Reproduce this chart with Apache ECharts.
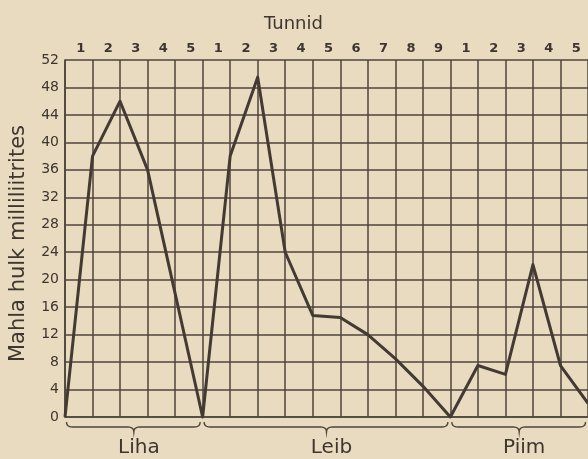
<!DOCTYPE html>
<html>
<head>
<meta charset="utf-8">
<script src="https://cdn.jsdelivr.net/npm/echarts@6/dist/echarts.min.js"></script>
<style>
  html, body { margin: 0; padding: 0; background: #e9dbbf; }
  #chart { width: 588px; height: 459px; }
</style>
</head>
<body>
<div id="chart"></div>
<script>
// Juice secreted (ml) at the end of each hour after eating each food
const foods = ['Liha', 'Leib', 'Piim'];
const lihaJuice = [38, 46, 36, 18, 0];
const leibJuice = [38, 49.5, 24, 14.8, 14.5, 12, 8.5, 4.5, 0];
const piimJuice = [7.5, 6.2, 22.2, 7.5, 2];
const startJuice = 0;

// Hour numbers printed along the top, one per hour interval
const hourLabels = ['1', '2', '3', '4', '5', '1', '2', '3', '4', '5', '6', '7', '8', '9', '1', '2', '3', '4', '5'];

const yMin = 0, yMax = 52, yStep = 4;

const ink = '#3d352f';
const gridInk = '#4e453d';
const fontFamily = '"DejaVu Sans", sans-serif';

const foodSeries = [lihaJuice, leibJuice, piimJuice];
const juice = [startJuice].concat(lihaJuice, leibJuice, piimJuice);
const hourTicks = juice.map((_, i) => String(i));

const chart = echarts.init(document.getElementById('chart'), null, { renderer: 'canvas' });

const option = {
  animation: false,
  backgroundColor: '#e9dbbf',
  title: {
    text: 'Tunnid',
    left: 259,
    top: 10,
    textStyle: { color: ink, fontFamily: fontFamily, fontSize: 18, fontWeight: 'normal' }
  },
  grid: { left: 64, top: 60, width: 524, height: 357, containLabel: false },
  xAxis: [
    {
      type: 'category',
      data: hourTicks,
      boundaryGap: false,
      position: 'bottom',
      axisLine: { show: true, lineStyle: { color: gridInk, width: 1.6 } },
      axisTick: { show: false },
      axisLabel: { show: false },
      splitLine: { show: true, interval: 0, lineStyle: { color: gridInk, width: 1.5 } }
    },
    {
      type: 'category',
      data: hourLabels,
      boundaryGap: true,
      position: 'top',
      axisLine: { show: false },
      axisTick: { show: false },
      splitLine: { show: false },
      axisLabel: {
        show: true, interval: 0, margin: 5,
        color: ink, fontFamily: fontFamily, fontSize: 13, fontWeight: 'bold',
        padding: [0, 0, 0, 4]
      }
    }
  ],
  yAxis: {
    type: 'value',
    min: yMin,
    max: yMax,
    interval: yStep,
    name: 'Mahla hulk milliliitrites',
    nameLocation: 'middle',
    nameGap: 36,
    nameTextStyle: { color: ink, fontFamily: fontFamily, fontSize: 21, padding: [0, 10, 0, 0] },
    axisLine: { show: true, lineStyle: { color: gridInk, width: 1.6 } },
    axisTick: { show: false },
    axisLabel: { color: ink, fontFamily: fontFamily, fontSize: 14, margin: 6 },
    splitLine: { show: true, lineStyle: { color: gridInk, width: 1.5 } }
  },
  series: [{
    type: 'line',
    data: juice,
    xAxisIndex: 0,
    yAxisIndex: 0,
    showSymbol: false,
    symbol: 'none',
    clip: false,
    lineStyle: { color: '#433a33', width: 3, join: 'round' }
  }]
};

chart.setOption(option);

// Sample a quadratic curve into points for a polyline
function quad(p0, c, p1, n) {
  const pts = [];
  for (let i = 1; i <= n; i++) {
    const t = i / n, u = 1 - t;
    pts.push([u * u * p0[0] + 2 * u * t * c[0] + t * t * p1[0],
              u * u * p0[1] + 2 * u * t * c[1] + t * t * p1[1]]);
  }
  return pts;
}

// Curly braces under the x axis grouping the hours of each food, with the food name below
const graphics = [];
let startIdx = 0;
foodSeries.forEach((vals, k) => {
  const endIdx = startIdx + vals.length;
  const p0 = chart.convertToPixel({ xAxisIndex: 0, yAxisIndex: 0 }, [startIdx, yMin]);
  const p1 = chart.convertToPixel({ xAxisIndex: 0, yAxisIndex: 0 }, [endIdx, yMin]);
  const x0 = p0[0] + 1.5, x1 = p1[0] - 2.5, xm = (p0[0] + p1[0]) / 2;
  const y = p0[1] + 10;
  let pts = [[x0, y - 5]];
  pts = pts.concat(quad([x0, y - 5], [x0, y], [x0 + 6, y], 6));
  pts.push([xm - 6, y]);
  pts = pts.concat(quad([xm - 6, y], [xm, y], [xm, y + 5], 6));
  pts = pts.concat(quad([xm, y + 5], [xm, y], [xm + 6, y], 6));
  pts.push([x1 - 6, y]);
  pts = pts.concat(quad([x1 - 6, y], [x1, y], [x1, y - 5], 6));
  graphics.push({
    type: 'polyline',
    shape: { points: pts },
    style: { fill: null, stroke: gridInk, lineWidth: 1.4 }
  });
  graphics.push({
    type: 'text',
    x: xm + 5,
    y: p0[1] + 31,
    style: {
      text: foods[k], fill: ink, font: '20px ' + fontFamily,
      textAlign: 'center', textVerticalAlign: 'middle'
    }
  });
  startIdx = endIdx;
});
chart.setOption({ graphic: graphics });
</script>
</body>
</html>
